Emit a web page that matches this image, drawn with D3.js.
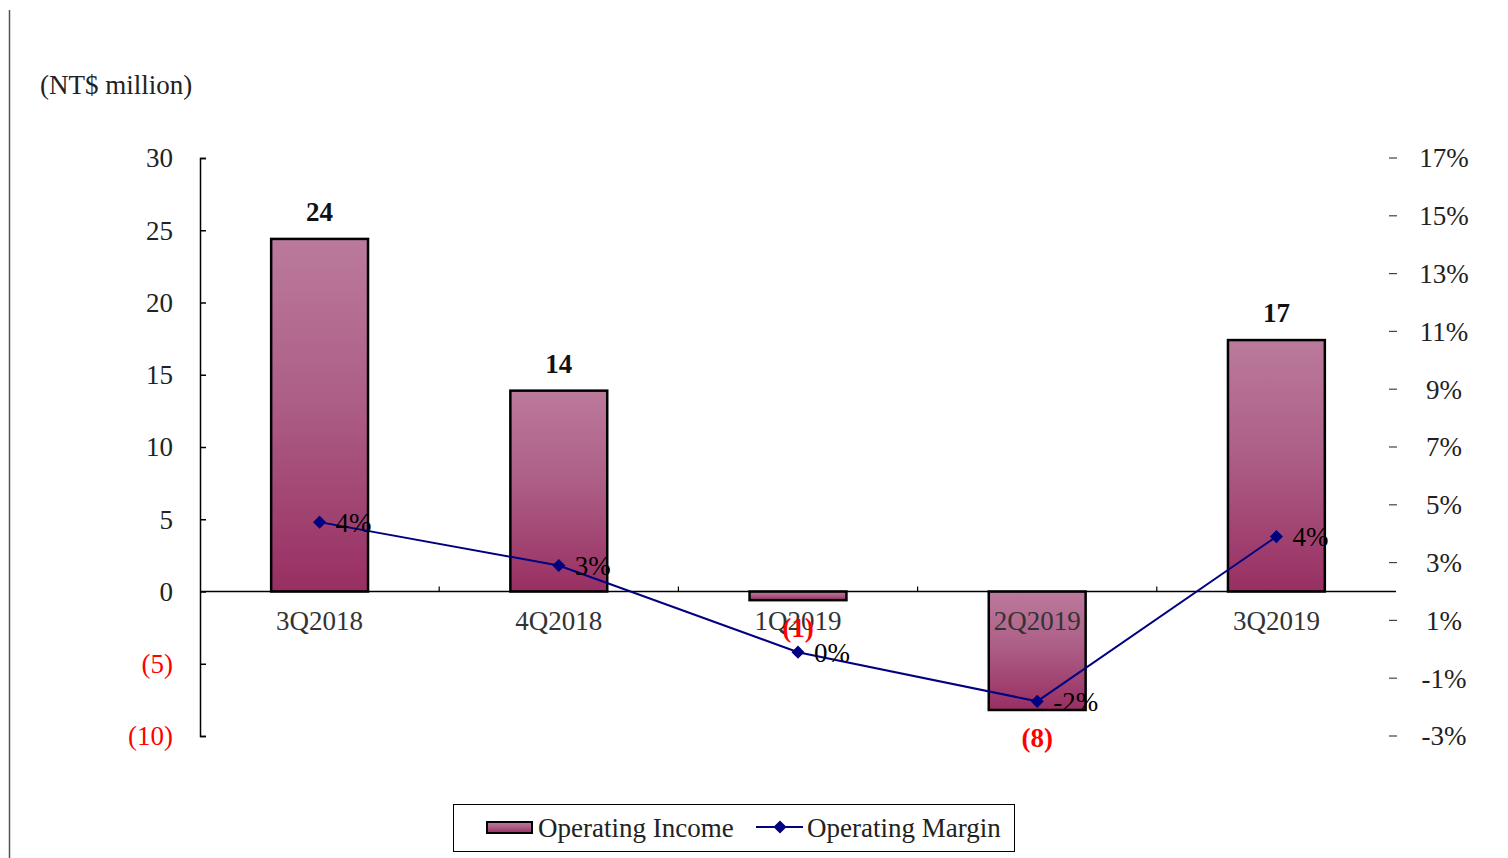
<!DOCTYPE html>
<meta charset="utf-8">
<style>
body {
  margin: 0;
  padding: 0;
  background: #fff;
}
svg text {
  font-family: "Liberation Serif", "DejaVu Serif", serif;
  font-size: 27px;
}
.neg {
  fill: red;
}
</style>
<body>
<div id="chart"></div>
<script src="https://cdnjs.cloudflare.com/ajax/libs/d3/7.8.5/d3.min.js"></script>
<script>

var quarters = ['3Q2018', '4Q2018', '1Q2019', '2Q2019', '3Q2019'];
var income = [24.4, 13.9, -0.6, -8.2, 17.4];
var incomeLabels = ['24', '14', '(1)', '(8)', '17'];
var margin = [4.4, 2.9, -0.1, -1.8, 3.9];
var marginLabels = ['4%', '3%', '0%', '-2%', '4%'];
var leftTicks = [30, 25, 20, 15, 10, 5, 0, -5, -10];
var leftTickLabels = ['30', '25', '20', '15', '10', '5', '0', '(5)', '(10)'];
var rightTicks = [17, 15, 13, 11, 9, 7, 5, 3, 1, -1, -3];

var W = 1508, H = 858;
var plot = {left: 200, right: 1396, top: 158, bottom: 736};

var svg = d3.select('#chart').append('svg')
  .attr('width', W)
  .attr('height', H);

var defs = svg.append('defs');
var grad = defs.append('linearGradient')
  .attr('id', 'barGrad')
  .attr('x1', 0).attr('y1', 0).attr('x2', 0).attr('y2', 1);
grad.append('stop').attr('offset', '0%').attr('stop-color', '#bb7a9b');
grad.append('stop').attr('offset', '45%').attr('stop-color', '#ad5f87');
grad.append('stop').attr('offset', '100%').attr('stop-color', '#982f62');

// frame line on the left
svg.append('line')
  .attr('x1', 9.5).attr('x2', 9.5)
  .attr('y1', 10).attr('y2', H)
  .attr('stroke', '#555')
  .attr('stroke-width', 1.5);

var x = d3.scaleBand()
  .domain(quarters)
  .range([plot.left, plot.right])
  .paddingInner(0.595)
  .paddingOuter(0.2975);

var y = d3.scaleLinear().domain([-10, 30]).range([plot.bottom, plot.top]);
var y2 = d3.scaleLinear().domain([-3, 17]).range([plot.bottom, plot.top]);

// unit label
svg.append('text')
  .attr('x', 40).attr('y', 94)
  .attr('fill', '#222')
  .text('(NT$ million)');

// left axis
var leftAxis = svg.append('g')
  .attr('transform', 'translate(' + plot.left + ',0)')
  .call(d3.axisRight(y).tickValues(leftTicks).tickSize(6).tickFormat(''));
leftAxis.select('.domain').attr('stroke', '#000').attr('stroke-width', 1.5);
leftAxis.selectAll('.tick line').attr('stroke', '#000').attr('stroke-width', 1.5);

svg.append('g').selectAll('text')
  .data(leftTicks)
  .enter().append('text')
  .attr('x', 173)
  .attr('y', function (d) { return y(d); })
  .attr('dy', '0.35em')
  .attr('text-anchor', 'end')
  .attr('class', function (d) { return d < 0 ? 'neg' : null; })
  .attr('fill', '#222')
  .text(function (d, i) { return leftTickLabels[i]; });

// right axis (ticks + labels only)
var right = svg.append('g');
right.selectAll('line')
  .data(rightTicks)
  .enter().append('line')
  .attr('x1', 1389).attr('x2', 1397)
  .attr('y1', function (d) { return y2(d); })
  .attr('y2', function (d) { return y2(d); })
  .attr('stroke', '#444')
  .attr('stroke-width', 1.2);
right.selectAll('text')
  .data(rightTicks)
  .enter().append('text')
  .attr('x', 1444)
  .attr('y', function (d) { return y2(d); })
  .attr('dy', '0.35em')
  .attr('text-anchor', 'middle')
  .attr('fill', '#222')
  .text(function (d) { return d + '%'; });

// bars
svg.append('g').selectAll('rect')
  .data(income)
  .enter().append('rect')
  .attr('x', function (d, i) { return x(quarters[i]); })
  .attr('y', function (d) { return d >= 0 ? y(d) : y(0); })
  .attr('width', x.bandwidth())
  .attr('height', function (d) { return Math.abs(y(d) - y(0)); })
  .attr('fill', 'url(#barGrad)')
  .attr('stroke', '#000')
  .attr('stroke-width', 2.5);

// x axis line and separators
svg.append('line')
  .attr('x1', plot.left).attr('x2', plot.right)
  .attr('y1', y(0)).attr('y2', y(0))
  .attr('stroke', '#000')
  .attr('stroke-width', 1.5);
svg.append('g').selectAll('line')
  .data(quarters.slice(1))
  .enter().append('line')
  .attr('x1', function (d) { return x(d) - x.step() * x.paddingInner() / 2; })
  .attr('x2', function (d) { return x(d) - x.step() * x.paddingInner() / 2; })
  .attr('y1', y(0) - 5).attr('y2', y(0))
  .attr('stroke', '#000')
  .attr('stroke-width', 1.2);

// category labels
svg.append('g').selectAll('text')
  .data(quarters)
  .enter().append('text')
  .attr('x', function (d) { return x(d) + x.bandwidth() / 2; })
  .attr('y', y(0) + 38)
  .attr('text-anchor', 'middle')
  .attr('fill', '#333')
  .text(function (d) { return d; });

// bar value labels
svg.append('g').selectAll('text')
  .data(income)
  .enter().append('text')
  .attr('x', function (d, i) { return x(quarters[i]) + x.bandwidth() / 2; })
  .attr('y', function (d) { return d >= 0 ? y(d) - 18 : y(d) + 37; })
  .attr('text-anchor', 'middle')
  .attr('font-weight', 'bold')
  .attr('class', function (d) { return d < 0 ? 'neg' : null; })
  .attr('fill', '#111')
  .text(function (d, i) { return incomeLabels[i]; });

// margin line
var cx = function (d, i) { return x(quarters[i]) + x.bandwidth() / 2; };
var line = d3.line()
  .x(cx)
  .y(function (d) { return y2(d); });
svg.append('path')
  .datum(margin)
  .attr('d', line)
  .attr('fill', 'none')
  .attr('stroke', '#000080')
  .attr('stroke-width', 2);

var diamond = d3.symbol().type(d3.symbolDiamond2).size(110);
svg.append('g').selectAll('path')
  .data(margin)
  .enter().append('path')
  .attr('d', diamond)
  .attr('transform', function (d, i) { return 'translate(' + cx(d, i) + ',' + y2(d) + ')'; })
  .attr('fill', '#000080');

svg.append('g').selectAll('text')
  .data(margin)
  .enter().append('text')
  .attr('x', function (d, i) { return cx(d, i) + 16; })
  .attr('y', function (d) { return y2(d); })
  .attr('dy', '0.35em')
  .attr('fill', '#000')
  .text(function (d, i) { return marginLabels[i]; });

// legend
var legend = svg.append('g');
legend.append('rect')
  .attr('x', 453.5).attr('y', 804.5)
  .attr('width', 561).attr('height', 47)
  .attr('fill', '#fff')
  .attr('stroke', '#000')
  .attr('stroke-width', 1);
legend.append('rect')
  .attr('x', 487).attr('y', 822)
  .attr('width', 45).attr('height', 11)
  .attr('fill', 'url(#barGrad)')
  .attr('stroke', '#000')
  .attr('stroke-width', 2);
legend.append('text')
  .attr('x', 538).attr('y', 828)
  .attr('dy', '0.35em')
  .attr('fill', '#222')
  .text('Operating Income');
legend.append('line')
  .attr('x1', 756).attr('x2', 803)
  .attr('y1', 827).attr('y2', 827)
  .attr('stroke', '#000080')
  .attr('stroke-width', 2);
legend.append('path')
  .attr('d', diamond)
  .attr('transform', 'translate(780,827)')
  .attr('fill', '#000080');
legend.append('text')
  .attr('x', 807).attr('y', 828)
  .attr('dy', '0.35em')
  .attr('fill', '#222')
  .text('Operating Margin');

</script>
